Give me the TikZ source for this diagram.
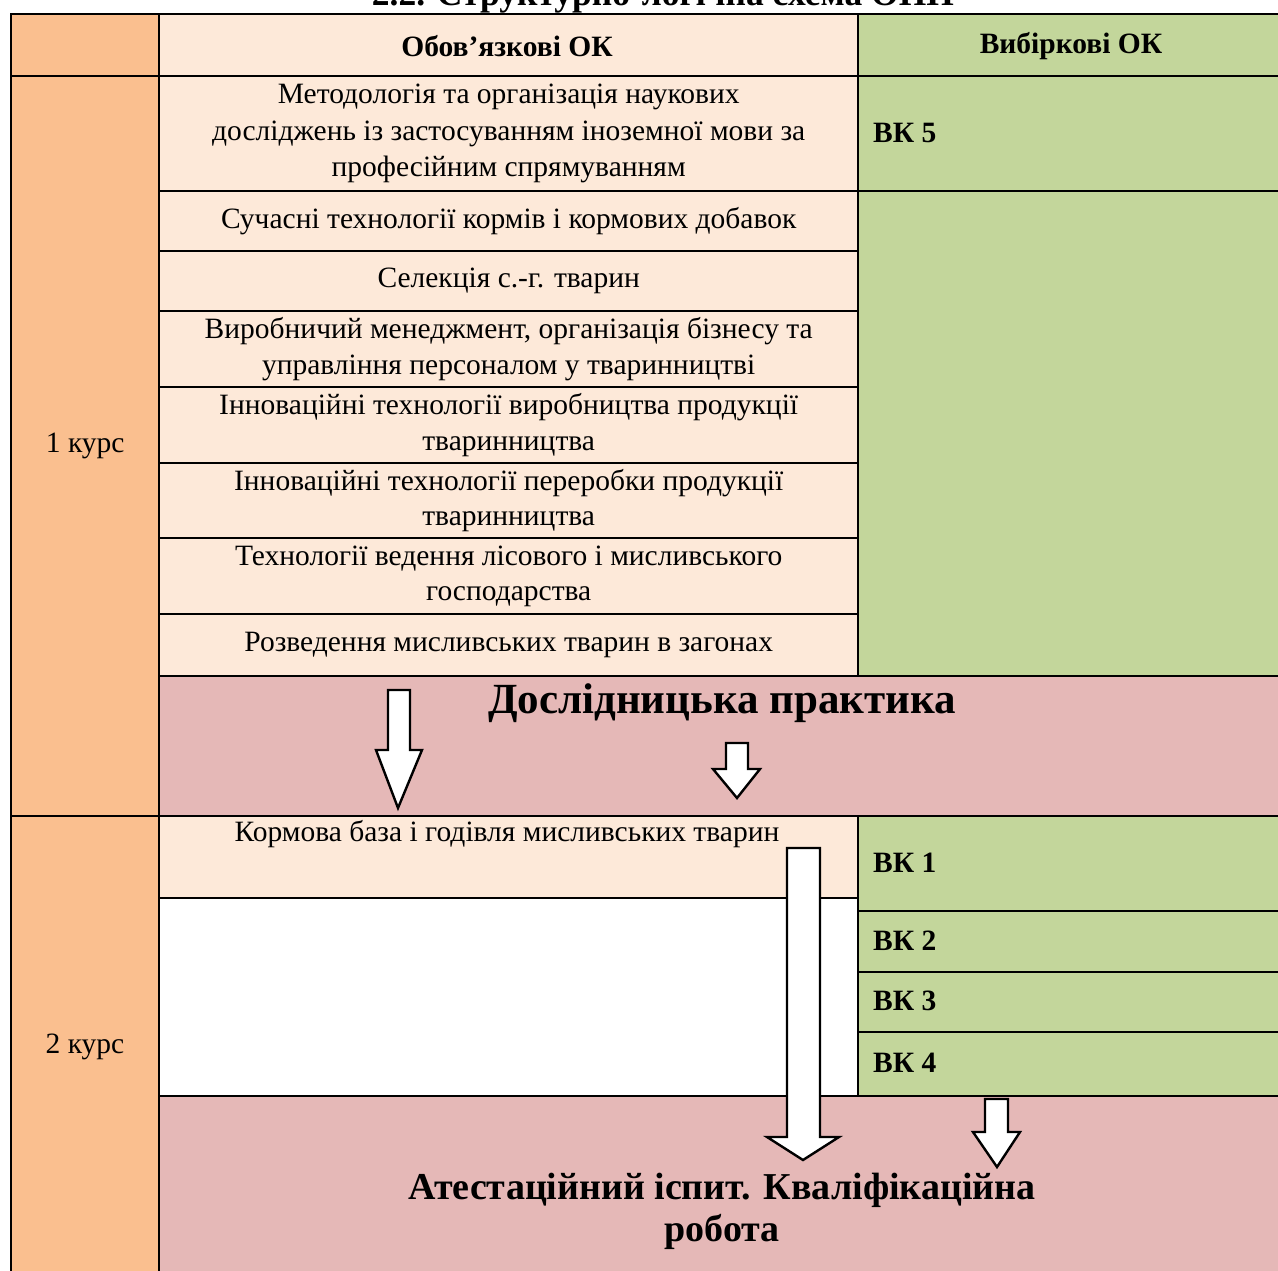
\documentclass[tikz,border=0pt]{standalone}
\usepackage{fontspec}
\setmainfont{Liberation Serif}
\definecolor{corange}{HTML}{FABF8F}
\definecolor{cpeach}{HTML}{FDE9D9}
\definecolor{cgreen}{HTML}{C3D69B}
\definecolor{cpink}{HTML}{E5B8B7}
\begin{document}
\begin{tikzpicture}[x=1pt,y=-1pt,
  cell/.style={draw=black, line width=2.4pt, inner sep=0pt, anchor=north west, align=center,
    font=\fontsize{29.5}{35.5}\selectfont},
  hdr/.style={font=\fontsize{29.5}{34}\selectfont\bfseries, inner sep=0pt},
  vk/.style={font=\fontsize{29.5}{34}\selectfont\bfseries, inner sep=0pt, anchor=west},
  blockarrow/.style={draw=black, fill=white, line width=2.4pt, line join=miter}]
\useasboundingbox (0,0) rectangle (1278,1270);
\clip (0,0) rectangle (1278,1270);
% title (cut off at top)
\node[font=\fontsize{35.5}{40}\selectfont\bfseries, anchor=base, inner sep=0pt] (title) at (663,5) {2.2. Структурно-логічна схема ОПП};
% header row
\node[cell, fill=corange, minimum width=148pt, minimum height=62pt] (h0) at (10,13) {};
\node[cell, fill=cpeach, minimum width=699pt, minimum height=62pt] (h1) at (158,13) {};
\node[cell, fill=cgreen, minimum width=424pt, minimum height=62pt] (h2) at (857,13) {};
\node[hdr] (h1t) at (507,46) {Обов’язкові ОК};
\node[hdr] (h2t) at (1071,46) {Вибіркові ОК};
% first column
\node[cell, fill=corange, minimum width=148pt, minimum height=740pt] (k1) at (10,75) {1 курс};
\node[cell, fill=corange, minimum width=148pt, minimum height=465pt] (k2) at (10,815) {};
\node[font=\fontsize{29.5}{34}\selectfont, inner sep=0pt] (k2t) at (85,1047) {2 курс};
% 1st year compulsory
\node[cell, fill=cpeach, minimum width=699pt, minimum height=115pt, font=\fontsize{29.5}{36.5}\selectfont] (m1) at (158,75) {Методологія та організація наукових\\досліджень із застосуванням іноземної мови за\\професійним спрямуванням};
\node[cell, fill=cpeach, minimum width=699pt, minimum height=60pt] (m2) at (158,190) {Сучасні технології кормів і кормових добавок};
\node[cell, fill=cpeach, minimum width=699pt, minimum height=60pt] (m3) at (158,250) {Селекція с.-г. тварин};
\node[cell, fill=cpeach, minimum width=699pt, minimum height=76pt] (m4) at (158,310) {Виробничий менеджмент, організація бізнесу та\\управління персоналом у тваринництві};
\node[cell, fill=cpeach, minimum width=699pt, minimum height=76pt] (m5) at (158,386) {Інноваційні технології виробництва продукції\\тваринництва};
\node[cell, fill=cpeach, minimum width=699pt, minimum height=75pt] (m6) at (158,462) {Інноваційні технології переробки продукції\\тваринництва};
\node[cell, fill=cpeach, minimum width=699pt, minimum height=76pt] (m7) at (158,537) {Технології ведення лісового і мисливського\\господарства};
\node[cell, fill=cpeach, minimum width=699pt, minimum height=62pt] (m8) at (158,613) {Розведення мисливських тварин в загонах};
% 1st year elective
\node[cell, fill=cgreen, minimum width=424pt, minimum height=115pt] (v5) at (857,75) {};
\node[vk] (v5t) at (873,133) {ВК 5};
\node[cell, fill=cgreen, minimum width=424pt, minimum height=485pt] (vb) at (857,190) {};
% practice
\node[cell, fill=cpink, minimum width=1123pt, minimum height=140pt] (pr) at (158,675) {};
\node[font=\fontsize{43}{48}\selectfont\bfseries, inner sep=0pt] (prt) at (722,703) {Дослідницька практика};
% 2nd year
\node[cell, fill=cpeach, minimum width=699pt, minimum height=82pt] (n1) at (158,815) {};
\node[font=\fontsize{29.5}{34}\selectfont, inner sep=0pt] (n1t) at (507,834) {Кормова база і годівля мисливських тварин};
\node[cell, fill=white, minimum width=699pt, minimum height=198pt] (n2) at (158,897) {};
\node[cell, fill=cgreen, minimum width=424pt, minimum height=95pt] (v1) at (857,815) {};
\node[vk] (v1t) at (873,863) {ВК 1};
\node[cell, fill=cgreen, minimum width=424pt, minimum height=61pt] (v2) at (857,910) {};
\node[vk] (v2t) at (873,941) {ВК 2};
\node[cell, fill=cgreen, minimum width=424pt, minimum height=60pt] (v3) at (857,971) {};
\node[vk] (v3t) at (873,1001) {ВК 3};
\node[cell, fill=cgreen, minimum width=424pt, minimum height=64pt] (v4) at (857,1031) {};
\node[vk] (v4t) at (873,1063) {ВК 4};
% attestation
\node[cell, fill=cpink, minimum width=1123pt, minimum height=190pt] (at) at (158,1095) {};
\node[font=\fontsize{38}{42}\selectfont\bfseries, inner sep=0pt, align=center, anchor=base] (att) at (722,1241) {Атестаційний іспит. Кваліфікаційна\\робота};
% block arrows
\draw[blockarrow] (388,690) -- (410,690) -- (410,750) -- (422,750) -- (398,808) -- (376,750) -- (388,750) -- cycle;
\draw[blockarrow] (726,743) -- (748,743) -- (748,769) -- (760,769) -- (737,798) -- (713,769) -- (726,769) -- cycle;
\draw[blockarrow] (787,848) -- (820,848) -- (820,1137) -- (839,1137) -- (803,1160) -- (767,1137) -- (787,1137) -- cycle;
\draw[blockarrow] (985,1099) -- (1008,1099) -- (1008,1132) -- (1020,1132) -- (997,1167) -- (973,1132) -- (985,1132) -- cycle;
\end{tikzpicture}
\end{document}
